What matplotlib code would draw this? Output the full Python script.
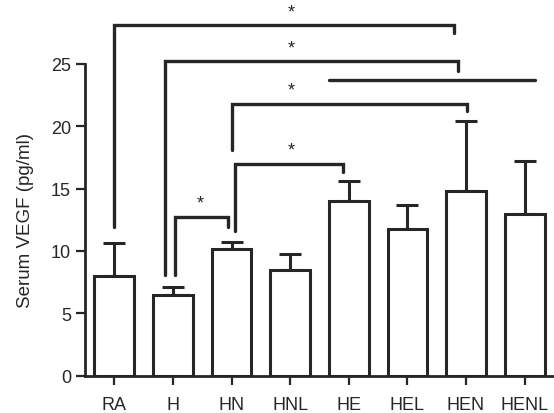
import matplotlib.pyplot as plt
import numpy as np

plt.rcParams['font.family'] = ['Liberation Sans', 'DejaVu Sans']

groups = ['RA', 'H', 'HN', 'HNL', 'HE', 'HEL', 'HEN', 'HENL']
means = [8.0, 6.45, 10.15, 8.5, 14.0, 11.75, 14.8, 12.95]
sems = [2.65, 0.7, 0.6, 1.25, 1.6, 1.9, 5.6, 4.25]

# brackets: (x left, x right, bar height, left leg bottom, right leg bottom)
brackets = [
    (0.0, 5.79, 28.1, 11.9, 27.45),
    (0.86, 5.86, 25.2, 8.1, 24.45),
    (2.01, 6.01, 21.8, 18.1, 21.2),
    (2.06, 3.90, 17.0, 11.6, 16.3),
    (1.03, 1.94, 12.7, 8.1, 11.9),
]
# plain horizontal line without legs
plain_line = (3.67, 7.17, 23.75)
star_x = [3.02, 3.02, 3.02, 3.02, 1.47]
star_y = [29.2, 26.25, 22.9, 18.1, 13.85]

dark = '#262626'

fig = plt.figure(figsize=(5.54, 4.14), dpi=100)
ax = fig.add_axes([85 / 554, 1 - 376.7 / 414, 1 - 85 / 554, 376.7 / 414])

x = np.arange(len(groups))
ax.bar(x, means, width=0.68, color='white', edgecolor=dark, linewidth=2.2, zorder=3)
ax.errorbar(x, means, yerr=[np.zeros(len(sems)), sems], fmt='none', ecolor=dark,
            elinewidth=2.2, capsize=8, capthick=2.2, zorder=2)

for (x0, x1, h, b0, b1), sx, sy in zip(brackets, star_x, star_y):
    ax.plot([x0, x0, x1, x1], [b0, h, h, b1], color=dark, lw=2.4,
            solid_capstyle='round', solid_joinstyle='miter', clip_on=False)
    ax.text(sx, sy, '*', ha='center', va='center', fontsize=13, color=dark)

ax.plot(plain_line[:2], [plain_line[2]] * 2, color=dark, lw=2.4,
        solid_capstyle='round', clip_on=False)

ytop = 376.7 / 12.47
ax.set_xlim(-0.5, 7.5)
ax.set_ylim(0, ytop)
ax.set_xticks(x)
ax.set_xticklabels(groups)
ax.set_yticks([0, 5, 10, 15, 20, 25])
ax.set_ylabel('Serum VEGF (pg/ml)', fontsize=13.5, color=dark)
ax.yaxis.set_label_coords((34 - 85) / 469, 12.5 / ytop)

for s in ['top', 'right']:
    ax.spines[s].set_visible(False)
ax.spines['left'].set_bounds(0, 25)
for s in ['left', 'bottom']:
    ax.spines[s].set_linewidth(2.0)
    ax.spines[s].set_color(dark)
ax.tick_params(axis='both', direction='out', length=6.5, width=1.6, color=dark,
               labelsize=13, labelcolor=dark)
ax.tick_params(axis='x', pad=8)

fig.savefig('out.png', dpi=100)
